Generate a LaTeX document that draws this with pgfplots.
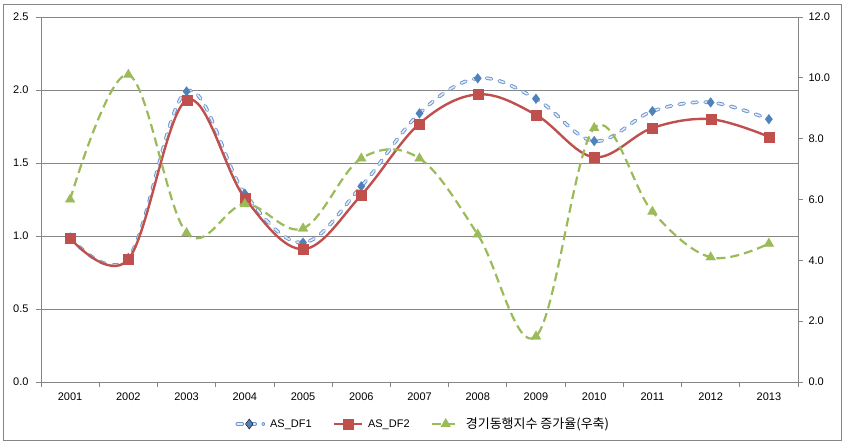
\documentclass[border=0pt]{standalone}
\usepackage{fontspec}
\setmainfont{Liberation Sans}
\newfontfamily\kr{Noto Sans CJK KR}
\usepackage{pgfplots}
\pgfplotsset{compat=1.18}
\usepackage{pgfplotstable}

\definecolor{dfblue}{RGB}{79,129,189}
\definecolor{dfblueline}{RGB}{108,150,205}
\definecolor{dfbluelight}{RGB}{228,237,248}
\definecolor{dfred}{RGB}{192,80,77}
\definecolor{cigreen}{RGB}{155,187,89}
\definecolor{axisgray}{RGB}{134,134,134}

% year index (0 = 2001), AS_DF1, AS_DF2, growth rate of the coincident index (right axis)
\pgfplotstableread{
idx df1   df2   ci
0   0.99  0.985 6.00
1   0.85  0.84  10.10
2   1.99  1.93  4.90
3   1.29  1.26  5.85
4   0.955 0.91  5.05
5   1.34  1.28  7.35
6   1.84  1.77  7.35
7   2.08  1.97  4.85
8   1.94  1.83  1.50
9   1.65  1.54  8.35
10  1.855 1.74  5.60
11  1.915 1.80  4.10
12  1.80  1.68  4.55
}\data

\pgfplotsset{
  % AS_DF1: outlined dashes, drawn as a wide stroke plus a pale core
  df1outer/.style={smooth, tension=0.6, draw=dfblueline, line width=3.6pt,
    line cap=round, dash pattern=on 5pt off 8pt, no markers},
  df1inner/.style={smooth, tension=0.6, draw=dfbluelight, line width=1.6pt,
    line cap=round, dash pattern=on 5pt off 8pt, no markers},
  df1marks/.style={only marks, mark=diamond*, mark size=5pt,
    mark options={solid, fill=dfblue, draw=dfblue, line width=0.1pt}},
  df2style/.style={smooth, tension=0.6, draw=dfred, line width=2.4pt, solid,
    mark=square*, mark size=5pt,
    mark options={solid, fill=dfred, draw=dfred, line width=0.1pt}},
  cistyle/.style={smooth, tension=0.6, draw=cigreen, line width=2.2pt,
    dash pattern=on 9pt off 5pt,
    mark=triangle*, mark size=5.8pt,
    mark options={solid, fill=cigreen, draw=cigreen, line width=0.1pt}},
  basegeom/.style={
    scale only axis, width=757pt, height=365pt,
    at={(41pt,59pt)}, anchor=south west,
    xmin=-0.5, xmax=12.5,
    tick align=outside, major tick length=5pt, minor tick length=5pt,
    axis line style={axisgray, line width=0.75pt},
    tick style={axisgray, line width=0.75pt},
    tick label style={font=\fontsize{11}{13}\selectfont, text=black},
    /pgf/number format/assume math mode=true,
    yticklabel style={/pgf/number format/fixed,
      /pgf/number format/fixed zerofill, /pgf/number format/precision=1},
    clip=false,
  },
}

\begin{document}
\begin{tikzpicture}
\path (0pt,0pt) rectangle (845pt,441pt);
\draw[axisgray, line width=0.75pt] (3pt,1pt) rectangle (841pt,437pt);

\begin{axis}[basegeom,
  axis y line*=left, axis x line*=bottom,
  ymin=0, ymax=2.5, ytick={0,0.5,1,1.5,2,2.5},
  ymajorgrids, grid style={axisgray, line width=0.75pt},
  xtick={0,...,12},
  xticklabels={2001,2002,2003,2004,2005,2006,2007,2008,2009,2010,2011,2012,2013},
  major x tick style={draw=none},
  minor xtick={-0.5,0.5,...,12.5},
  xticklabel style={yshift=-2pt},
  yticklabel style={xshift=-4pt},
]
\addplot[df1outer] table[x=idx, y=df1] {\data};
\addplot[df1inner] table[x=idx, y=df1] {\data};
\addplot[df1marks] table[x=idx, y=df1] {\data};
\addplot[df2style] table[x=idx, y=df2] {\data};
\end{axis}

\begin{axis}[basegeom,
  axis y line*=right, axis x line=none,
  ymin=0, ymax=12, ytick={0,2,...,12},
  yticklabel style={xshift=2pt},
  legend style={draw=none, fill=none, legend columns=3,
    at={(0.505,-0.115)}, anchor=center,
    font=\fontsize{11}{13}\selectfont,
    /tikz/every even column/.append style={column sep=19pt},
    /tikz/every odd column/.append style={column sep=3pt}},
  legend image code/.code={\draw[mark repeat=2, mark phase=2, #1]
    plot coordinates {(0pt,0pt) (14pt,0pt) (28pt,0pt)};},
]
\addlegendimage{legend image code/.code={
  \draw[dfblueline, line width=3.6pt, line cap=round, dash pattern=on 5pt off 8pt]
    (2pt,0pt) -- (28pt,0pt);
  \draw[dfbluelight, line width=1.6pt, line cap=round, dash pattern=on 5pt off 8pt]
    (2pt,0pt) -- (28pt,0pt);
  \path[fill=dfblue] (14pt,0pt) ++(0,5pt) -- ++(3.75pt,-5pt) -- ++(-3.75pt,-5pt)
    -- ++(-3.75pt,5pt) -- cycle;}}
\addlegendentry{AS\_DF1}
\addlegendimage{df2style}
\addlegendentry{AS\_DF2}
\addplot[cistyle] table[x=idx, y=ci] {\data};
\addlegendentry{{\kr\fontsize{13}{15}\selectfont 경기동행지수 증가율(우축)}}
\end{axis}
\end{tikzpicture}
\end{document}
